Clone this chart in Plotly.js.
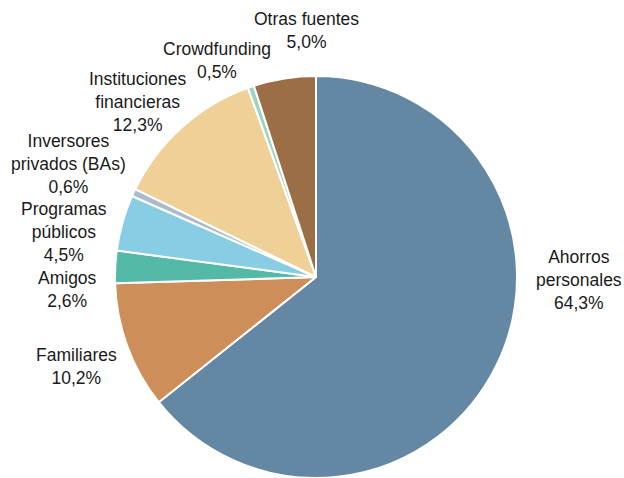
<!DOCTYPE html>
<html>
<head>
<meta charset="utf-8">
<script src="https://cdn.plot.ly/plotly-3.0.1.min.js"></script>
<style>html,body{margin:0;padding:0;background:#fff;}#chart{width:624px;height:478px;}</style>
</head>
<body>
<div id="chart"></div>
<script>
// Data
const categories = ["Ahorros<br>personales", "Familiares", "Amigos", "Programas<br>públicos", "Inversores<br>privados (BAs)", "Instituciones<br>financieras", "Crowdfunding", "Otras fuentes"];
const shares = [64.3, 10.2, 2.6, 4.5, 0.6, 12.3, 0.5, 5.0];
const sliceColors = ["#6488a3", "#cd8e5a", "#55b9a7", "#88cde3", "#a9bccb", "#efd198", "#9dd4c3", "#9c6e46"];

// Label placement (layout only)
const labelPos = [[579, 280], [76, 366], [67, 289], [64, 232], [68, 164], [138, 102], [217, 60], [306, 31]];

const W = 624, H = 478;
const fmt = v => v.toFixed(1).replace('.', ',') + '%';

const annotations = categories.map((c, i) => ({
  text: c + '<br>' + fmt(shares[i]),
  x: labelPos[i][0] / W,
  y: 1 - labelPos[i][1] / H,
  xref: 'paper', yref: 'paper',
  xanchor: 'center', yanchor: 'middle',
  showarrow: false,
  align: 'center',
  font: {family: 'Liberation Sans, Arial, sans-serif', size: 17.5, color: '#1a1a1a'}
}));

const trace = {
  type: 'pie',
  labels: categories,
  values: shares,
  sort: false,
  direction: 'clockwise',
  rotation: 0,
  textinfo: 'none',
  hoverinfo: 'label+percent',
  marker: {colors: sliceColors, line: {color: '#ffffff', width: 2}},
  domain: {x: [(316 - 201) / W, (316 + 201) / W], y: [0, 402 / H]}
};

Plotly.newPlot('chart', [trace], {
  width: W, height: H,
  margin: {l: 0, r: 0, t: 0, b: 0},
  showlegend: false,
  paper_bgcolor: '#ffffff',
  annotations: annotations
}, {staticPlot: true, displayModeBar: false});
</script>
</body>
</html>
